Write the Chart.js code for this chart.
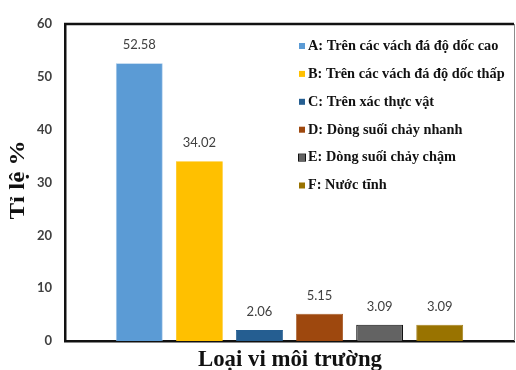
<!DOCTYPE html>
<html>
<head>
<meta charset="utf-8">
<script src="https://cdn.jsdelivr.net/npm/chart.js@4.4.1/dist/chart.umd.min.js"></script>
<style>
  html, body { margin: 0; padding: 0; background: #fff; }
  #wrap { width: 516px; height: 370px; position: relative; }
</style>
</head>
<body>
<div id="wrap"><canvas id="c" width="516" height="370"></canvas></div>
<script>
// Microhabitat types and their share (%)
const seriesNames = [
  'A: Trên các vách đá độ dốc cao',
  'B: Trên các vách đá độ dốc thấp',
  'C: Trên xác thực vật',
  'D: Dòng suối chảy nhanh',
  'E: Dòng suối chảy chậm',
  'F: Nước tĩnh'
];
const seriesValues = [52.58, 34.02, 2.06, 5.15, 3.09, 3.09];
const seriesColors = ['#5B9BD5', '#FFC000', '#255E91', '#9E480E', '#636363', '#997300'];
const seriesBorders = ['#9DC3E6', '#FFC000', '#255E91', '#9E480E', '#111111', '#997300'];
const yTicks = [0, 10, 20, 30, 40, 50, 60];
const yTitle = 'Tỉ lệ %';
const xTitle = 'Loại vi môi trường';

const serif = '"Liberation Serif", "Times New Roman", serif';

// Outer frame: top and right edges of the plot box
const framePlugin = {
  id: 'frame',
  afterDraw(chart) {
    const { ctx, chartArea: a } = chart;
    ctx.save();
    ctx.strokeStyle = '#111';
    ctx.lineWidth = 2.5;
    ctx.beginPath();
    ctx.moveTo(a.left - 1, a.top);
    ctx.lineTo(a.right, a.top);
    ctx.stroke();
    ctx.strokeStyle = '#8c8c8c';
    ctx.lineWidth = 1;
    ctx.beginPath();
    ctx.moveTo(a.right + 0.5, a.top);
    ctx.lineTo(a.right + 0.5, a.bottom);
    ctx.stroke();
    ctx.restore();
  }
};

// Value labels above each bar
const valueLabels = {
  id: 'valueLabels',
  afterDatasetsDraw(chart) {
    const { ctx } = chart;
    ctx.save();
    ctx.font = '13px Lato, "Noto Sans", sans-serif';
    ctx.fillStyle = '#404040';
    ctx.textAlign = 'center';
    ctx.textBaseline = 'middle';
    chart.data.datasets.forEach((ds, i) => {
      const bar = chart.getDatasetMeta(i).data[0];
      ctx.fillText(ds.data[0].toFixed(2), bar.x, bar.y - 18);
    });
    ctx.restore();
  }
};

// Legend drawn inside the plot area, upper right
const innerLegend = {
  id: 'innerLegend',
  afterDraw(chart) {
    const { ctx } = chart;
    const x0 = 299, y0 = 46, step = 27.9;
    ctx.save();
    ctx.textBaseline = 'middle';
    ctx.textAlign = 'left';
    chart.data.datasets.forEach((ds, i) => {
      const y = y0 + i * step;
      ctx.fillStyle = ds.backgroundColor;
      ctx.fillRect(x0, y - 3, 6, 6);
      if (i === 4) {
        ctx.strokeStyle = '#111';
        ctx.lineWidth = 1;
        ctx.strokeRect(x0 - 0.5, y - 3.5, 7, 7);
      }
      ctx.save();
      ctx.translate(x0 + 9, y);
      ctx.scale(0.955, 1);
      ctx.font = 'bold 15px ' + serif;
      ctx.fillStyle = '#111';
      ctx.fillText(ds.label, 0, 0);
      ctx.restore();
    });
    ctx.restore();
  }
};

// Axis titles in a bold serif face
const axisTitles = {
  id: 'axisTitles',
  afterDraw(chart) {
    const { ctx } = chart;
    ctx.save();
    ctx.fillStyle = '#111';
    ctx.textAlign = 'center';
    ctx.textBaseline = 'middle';
    ctx.font = 'bold 24px ' + serif;
    ctx.save();
    ctx.translate(290, 360);
    ctx.scale(0.95, 1);
    ctx.fillText(xTitle, 0, 0);
    ctx.restore();
    ctx.translate(19, 180);
    ctx.rotate(-Math.PI / 2);
    ctx.scale(1, 0.85);
    ctx.font = 'bold 25px ' + serif;
    ctx.fillText(yTitle, 0, 0);
    ctx.restore();
  }
};

Chart.defaults.font.family = 'Lato, "Noto Sans", sans-serif';

new Chart(document.getElementById('c'), {
  type: 'bar',
  data: {
    labels: [''],
    datasets: seriesNames.map((name, i) => ({
      label: name,
      data: [seriesValues[i]],
      backgroundColor: seriesColors[i],
      borderColor: seriesBorders[i],
      borderWidth: i === 4 ? 1.2 : 0.8,
      categoryPercentage: 0.803,
      barPercentage: 0.78
    }))
  },
  options: {
    responsive: false,
    animation: false,
    devicePixelRatio: 1,
    layout: { padding: { top: 24, right: 2, left: 0, bottom: 0 } },
    plugins: {
      legend: { display: false },
      tooltip: { enabled: false },
      title: { display: false }
    },
    scales: {
      x: {
        grid: { display: false, drawTicks: false },
        border: { display: true, color: '#111', width: 2.5 },
        ticks: { display: false },
        afterFit(scale) { scale.height = 29; }
      },
      y: {
        min: 0,
        max: 60,
        afterBuildTicks(scale) { scale.ticks = yTicks.map(v => ({ value: v })); },
        grid: { display: false, drawTicks: false },
        border: { display: true, color: '#111', width: 2.5 },
        ticks: {
          padding: 13,
          color: '#404040',
          font: { size: 13, weight: 'bold' }
        },
        afterFit(scale) { scale.width = 65; }
      }
    }
  },
  plugins: [framePlugin, valueLabels, innerLegend, axisTitles]
});
</script>
</body>
</html>
